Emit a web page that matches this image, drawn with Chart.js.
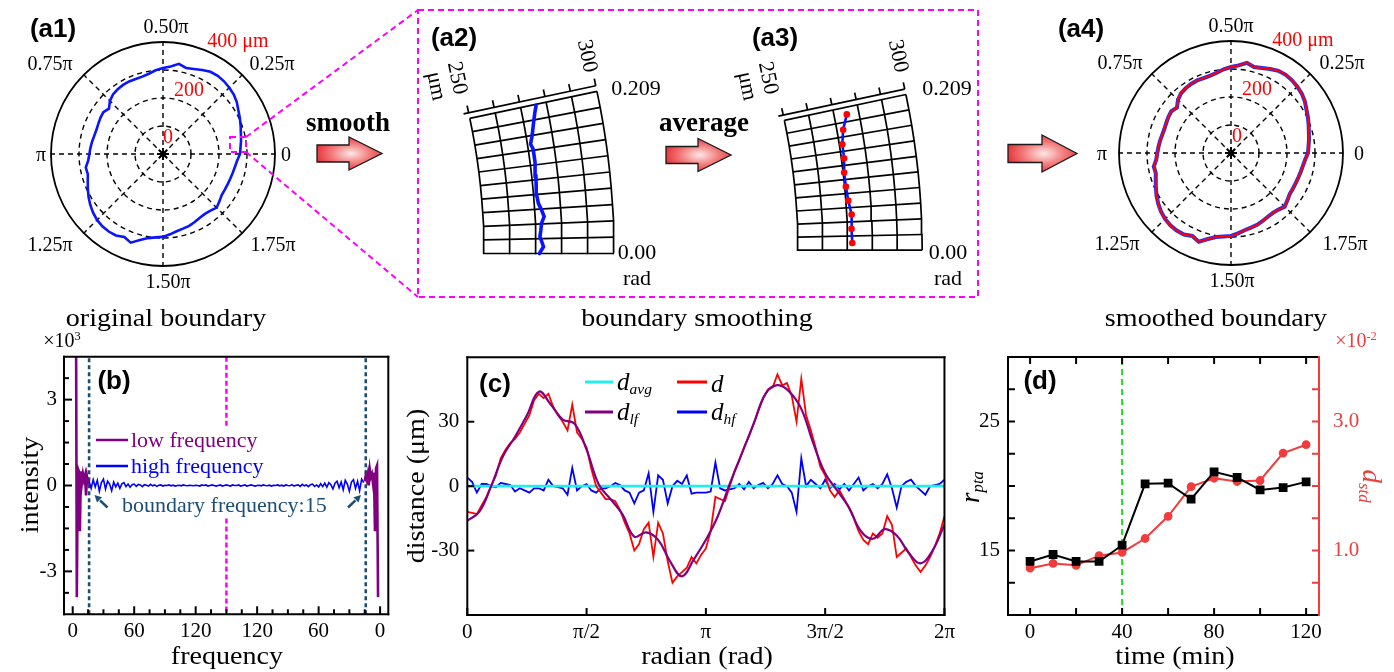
<!DOCTYPE html>
<html>
<head>
<meta charset="utf-8">
<title>Boundary smoothing</title>
<script src="https://cdn.jsdelivr.net/npm/chart.js@4.4.1/dist/chart.umd.min.js"></script>
<style>
  body { margin: 0; background: #fff; }
  #fig { position: relative; width: 1394px; height: 672px; overflow: hidden; background: #fff;
         font-family: "Liberation Serif", "Times New Roman", serif; color: #000; }
  #fig canvas { position: absolute; }
  #fig svg { position: absolute; left: 0; top: 0; pointer-events: none; }
  .txt { position: absolute; white-space: nowrap; line-height: 1; transform: translate(-50%, -50%); }
  .txt sub { font-size: 0.62em; vertical-align: -0.28em; }
  .txt sup { font-size: 0.62em; vertical-align: 0.55em; }
</style>
</head>
<body>
<div id="fig">
  <canvas id="a1" width="240" height="240" style="left:43px; top:34px"></canvas>
  <canvas id="a2" width="180" height="200" style="left:460px; top:70px"></canvas>
  <canvas id="a3" width="180" height="200" style="left:771px; top:70px"></canvas>
  <canvas id="a4" width="240" height="240" style="left:1111px; top:33px"></canvas>
  <canvas id="b" width="400" height="342" style="left:0; top:330px"></canvas>
  <canvas id="c" width="560" height="342" style="left:400px; top:330px"></canvas>
  <canvas id="d" width="454" height="342" style="left:940px; top:330px"></canvas>
  <svg width="1394" height="672">
    <defs>
      <radialGradient id="glow" cx="0.52" cy="0.5" r="0.6">
        <stop offset="0" stop-color="#fde8e8"/>
        <stop offset="0.5" stop-color="#f37a7a"/>
        <stop offset="1" stop-color="#e3232c"/>
      </radialGradient>
    </defs>
    <g fill="url(#glow)" stroke="#1a1a1a" stroke-width="1.3">
      <polygon points="317,145 349,145 349,137 382,153.5 349,170 349,162 317,162"/>
      <polygon points="666,146.5 698,146.5 698,138.5 731,155 698,171.5 698,163.5 666,163.5"/>
      <polygon points="1008,144.5 1042,144.5 1042,135 1077,153.5 1042,172 1042,162.5 1008,162.5"/>
    </g>
    <g fill="none" stroke="#ff00ff" stroke-width="2" stroke-dasharray="6 4">
      <rect x="418" y="10" width="560" height="287"/>
      <path d="M246 137 L418 10 M246 152 L418 297"/>
      <rect x="230" y="137" width="16" height="15"/>
    </g>
    <g stroke-width="2.5">
      <line x1="96" y1="440" x2="128" y2="440" stroke="#800080"/>
      <line x1="96" y1="466" x2="128" y2="466" stroke="#0000ff"/>
    </g>
    <g fill="#1c4e74" stroke="#1c4e74" stroke-width="2.5">
      <line x1="107.5" y1="507.5" x2="100" y2="500.3"/>
      <polygon points="94.5,495 102,497.2 97,502.4" stroke-width="0"/>
      <line x1="348" y1="507.5" x2="355.5" y2="500.3"/>
      <polygon points="361,495 353.5,497.2 358.5,502.4" stroke-width="0"/>
    </g>
    <g stroke-width="3">
      <line x1="585" y1="382" x2="613" y2="382" stroke="#22eeee"/>
      <line x1="677" y1="382" x2="707" y2="382" stroke="#ff0000"/>
      <line x1="585" y1="412" x2="613" y2="412" stroke="#800080"/>
      <line x1="677" y1="412" x2="707" y2="412" stroke="#0000ff"/>
    </g>
  </svg>
</div>
<script>
// ---------- data ----------
// (a1)/(a4) cell boundary: radius (um) at polar angle (deg, counter-clockwise from 0)
const polarAngleDeg = [0,5,10,15,20,25,30,35,40,45,50,55,60,65,70,75,80,85,90,95,100,105,110,115,120,125,130,135,140,145,150,155,160,165,170,175,180,185,190,195,200,205,210,215,220,225,230,235,240,245,250,255,260,265,270,275,280,285,290,295,300,305,310,315,320,325,330,335,340,345,350,355];
const boundaryRadiusUm = [275,278,283,288,295,303,311,322,330,335,339,341,339,331,323,318,327,314,307,300,291,286,285,286,285,282,278,268,252,260,258,255,253,254,257,260,263,268,280,278,286,296,307,317,326,333,337,338,336,327,337,318,305,299,296,288,280,276,273,268,263,261,264,271,263,256,255,255,256,258,261,266];

// (a2)/(a3) zoomed sector 0..0.209 rad, 250..300 um
const sectorRingsUm = [250, 260, 270, 280, 290, 300];
const sectorRaysRad = [0, 0.0209, 0.0419, 0.0628, 0.0838, 0.1047, 0.1257, 0.1466, 0.1676, 0.1885, 0.2094];
const origThetaRad = [0, 0.0095, 0.024, 0.033, 0.043, 0.052, 0.062, 0.071, 0.083, 0.095, 0.11, 0.129, 0.148, 0.156, 0.166, 0.176, 0.188, 0.199, 0.208];
const origRadiusUm = [271.3, 272.9, 271.6, 272.0, 272.4, 273.5, 272.6, 271.6, 271.2, 271.3, 271.6, 271.9, 271.9, 271.2, 272.2, 273.0, 274.0, 275.0, 276.0];
const avgThetaRad = [0.0105, 0.0314, 0.0524, 0.0733, 0.0942, 0.1152, 0.1361, 0.1571, 0.178, 0.199];
const avgRadiusUm = [271.9, 271.7, 272.0, 271.0, 270.5, 270.4, 271.1, 271.2, 272.5, 275.1];

// (b) spectrum
const freqTicks = [0, 60, 120, 180, 240, 300];
const freqTickLabels = ['0', '60', '120', '120', '60', '0'];
const freqMinorTicks = [15, 30, 45, 75, 90, 105, 135, 150, 165, 195, 210, 225, 255, 270, 285];
const intensityTicks = [-3, 0, 3];
const intensityTickLabels = ['-3', '0', '3'];
const intensityMinorTicks = [-3.75, -2.25, -1.5, -0.75, 0.75, 1.5, 2.25, 3.75];
const lowLeftFreq = [3, 4, 5, 6, 7, 8, 9, 10, 11, 12, 13, 14, 15, 16];
const lowLeftIntensity = [9, -3.9, 0.6, 0.5, -1.6, 0.5, 0.1, 0.4, 0.2, 0.35, -0.35, 0.3, 0.1, 0.15];
const lowRightFreq = [285, 286, 287, 288, 289, 290, 291, 292, 293, 294, 295, 296, 297, 298];
const lowRightIntensity = [0.15, 0.35, 0.2, 0.4, 0.0, 0.55, 0.3, 0.4, 0.1, 0.45, -1.6, 0.6, 0.7, -3.9];
const highFreqStart = 16, highFreqStep = 2;
const highIntensity = [
  0.15, -0.1, 0.2, -0.05, 0.18, -0.2, 0.1, 0.22, -0.12, 0.15, 0.05, -0.18, 0.12, -0.05, 0.08, -0.1, 0.06, 0.1, -0.04, 0.05, -0.06, 0.03, 0.05,
  -0.03, 0.04, 0.02, -0.04, 0.03, 0.01, -0.02, 0.04, -0.01, 0.02, -0.03, 0.01, 0.02, -0.02, 0.01, 0, 0.02, -0.01, 0.01, -0.02, 0, 0.01, -0.01, 0.02, 0, -0.01, 0.01, 0, -0.01, 0.01,
  0, -0.02, 0.02, 0, 0.02, -0.02, 0, 0.02, 0, -0.02, 0, 0.02, -0.02, 0, 0.02, 0, -0.02, 0.02, 0, 0, 0.02, -0.02, 0, 0.02, -0.02, 0, 0.02, 0, -0.02, 0,
  0.01, -0.01, 0.02, 0, -0.01, 0.01, -0.02, 0.01, 0, 0.02, -0.01, 0.01, -0.02, 0.02, 0, -0.01, 0.03, -0.02, 0.01, 0.02, -0.03, 0.04, -0.01, 0.02, -0.04, 0.03, 0.05, -0.03, 0.02, -0.05,
  0.06, -0.04, 0.08, -0.06, 0.1, 0.03, -0.12, 0.08, 0.15, -0.08, 0.12, -0.15, 0.18, 0.05, -0.2, 0.12, 0.2, -0.1, 0.15, -0.18, 0.22, 0.1];
const boundaryFreq = [16, 286];
const mirrorFreq = 150;

// (c) distance vs radian (x in units of pi)
const radianTicks = [0, 0.5, 1, 1.5, 2];
const radianTickLabels = ['0', 'π/2', 'π', '3π/2', '2π'];
const distanceTicks = [-30, 0, 30];
const distanceTickLabels = ['-30', '0', '30'];
const dStep = 0.02;
const dRaw = [
  -12, -12.5, -13, -9, -5, 0, 5, 13, 17, 20,
  22, 25, 29, 33, 40, 43, 41, 43, 37, 33,
  30, 26, 38, 25, 22, 18, 8, 0, -3, -6,
  -6, -7, -11, -17, -22, -30, -27, -20, -17, -33,
  -17, -22, -35, -45, -42, -40, -38, -33, -36, -32,
  -29, -21, -5, -6, -7, 0, 7, 12, 18, 23,
  29, 35, 41, 45, 46, 52, 47, 48, 42, 30,
  50, 33, 26, 18, 9, 5, -2, -5, -2, -6,
  -10, -15, -21, -25, -27, -22, -24, -22, -14, -18,
  -33, -31, -29, -33, -37, -40, -37, -33, -28, -22,
  -14];
const dHigh = [
  4, 2, -3, 1, 1, 0, -0.5, 1.5, 1, 0.5,
  -2.5, -1, -2, -3, -1, -1, -2, 3, 0, -0.5,
  -1, -4, 8.5, -2, 0, 1, -2, -3, -1, -1,
  0, 1.5, 0.5, -2, -3, -8, -3, -2, 6, -12,
  5, 3, -8, 0, 2.5, 1, 5, -3.5, -3, -3,
  -3, -2.5, 11, -1, -2, -1.5, -1, 1, -1.5, 2,
  -1, 0.5, 1.5, -1, 1, 5, 1, 0, -3, -12,
  13, 0, 3, 1, -1, 3, -1, 1, -1.5, 1,
  -2, 1, 4, -2, 0, 1, -1, 1, 5.5, -1,
  -10, 0, 2, 3, 0, -2, -4, 0, 0.5, 1,
  3];
const lfStep = 0.05;
const dLow = [
  -16, -12, 0, 14, 23, 33, 44, 38, 31, 29,
  17, 1, -6, -13, -23.5, -21.5, -25, -35, -42, -34,
  -25, -14, 1, 15, 29, 43, 47, 44, 36, 20,
  6, -2, -10, -21, -24.5, -20, -23, -31, -36, -30,
  -18];
const avgRadian = [0, 2];
const dAvg = [0, 0];

// (d) time series
const timeMin = [0, 10, 20, 30, 40, 50, 60, 70, 80, 90, 100, 110, 120];
const rPta = [14.15, 14.69, 14.15, 14.15, 15.41, 20.17, 20.22, 18.98, 21.1, 20.66, 19.7, 19.88, 20.32];
const dStd = [0.726, 0.80, 0.77, 0.92, 0.97, 1.186, 1.53, 1.99, 2.12, 2.07, 2.085, 2.51, 2.64];
const timeTicks = [0, 40, 80, 120];
const timeTickMarks = [0, 20, 40, 60, 80, 100, 120];
const rPtaTicks = [15, 25];
const rPtaTickMarks = [12.5, 15, 17.5, 20, 22.5, 25, 27.5];
const dStdTicks = [1, 3];
const dStdTickLabels = ['1.0', '3.0'];
const dStdTickMarks = [0.5, 1, 1.5, 2, 2.5, 3, 3.5];
const startMarker = 40;

// ---------- helpers ----------
const SERIF = '"Liberation Serif", "Times New Roman", serif';
const RED = '#f03c3c';
const pts = (xs, ys) => xs.map((x, i) => ({ x, y: ys[i] }));
const stepPts = (start, step, ys) => ys.map((y, i) => ({ x: start + i * step, y }));
const base = { responsive: false, animation: false, events: [] };
const quiet = { legend: { display: false }, tooltip: { enabled: false } };

function frame(opts) {
  return {
    id: 'frame',
    afterDatasetsDraw(chart) {
      const { ctx, chartArea: a } = chart;
      ctx.save();
      ctx.lineWidth = 2;
      (opts.ticks || []).forEach(t => {
        const s = chart.scales[t.scale];
        ctx.strokeStyle = t.color || '#000';
        t.values.forEach(v => {
          const p = s.getPixelForValue(v);
          ctx.beginPath();
          if (t.side === 'bottom') { ctx.moveTo(p, a.bottom); ctx.lineTo(p, a.bottom - t.len); }
          if (t.side === 'top') { ctx.moveTo(p, a.top); ctx.lineTo(p, a.top + t.len); }
          if (t.side === 'left') { ctx.moveTo(a.left, p); ctx.lineTo(a.left + t.len, p); }
          if (t.side === 'right') { ctx.moveTo(a.right, p); ctx.lineTo(a.right - t.len, p); }
          ctx.stroke();
        });
      });
      ctx.lineCap = 'square';
      const side = (c, x1, y1, x2, y2) => { ctx.strokeStyle = c; ctx.beginPath(); ctx.moveTo(x1, y1); ctx.lineTo(x2, y2); ctx.stroke(); };
      side('#000', a.left, a.top, a.right, a.top);
      side('#000', a.left, a.bottom, a.right, a.bottom);
      side('#000', a.left, a.top, a.left, a.bottom);
      side(opts.right || '#000', a.right, a.top, a.right, a.bottom);
      ctx.restore();
    }
  };
}

function axis(min, max, ticks, labels, size, pad, color) {
  return {
    type: 'linear', min, max,
    afterBuildTicks: s => { s.ticks = ticks.map(v => ({ value: v })); },
    afterFit: s => { if (s.isHorizontal()) s.height = size; else s.width = size; },
    grid: { display: false, drawTicks: false },
    border: { display: false },
    ticks: { autoSkip: false, maxRotation: 0, padding: pad, color: color || '#000',
             font: { family: SERIF, size: 21 }, callback: (v, i) => labels[i] }
  };
}

const line = (data, color, width, extra) => Object.assign({ data, borderColor: color, backgroundColor: color, borderWidth: width, pointRadius: 0, fill: false, tension: 0 }, extra || {});

// ---------- (a1) / (a4) polar boundary ----------
const ccw = arr => polarAngleDeg.map((_, i) => arr[(arr.length - i) % arr.length]);
const centreMark = polarAngleDeg.map((_, i) => (i === 0 ? 0 : null));

function polarChart(id, datasets) {
  return new Chart(document.getElementById(id), {
    type: 'radar',
    data: { labels: polarAngleDeg.map(String), datasets },
    options: Object.assign({}, base, {
      layout: { padding: 8 },
      plugins: quiet,
      scales: { r: {
        min: 0, max: 400, startAngle: 90,
        ticks: { display: false, stepSize: 100 },
        pointLabels: { display: false },
        grid: { circular: true, color: '#000', lineWidth: c => (c.tick && c.tick.value === 400 ? 1.8 : 1.4) },
        border: { dash: c => (c.tick && c.tick.value === 400 ? [] : [5, 4]) },
        angleLines: { color: '#000', lineWidth: c => (c.index % 9 === 0 ? 1.4 : 0), borderDash: [5, 4] }
      } }
    })
  });
}
const star = { data: centreMark, pointStyle: 'star', pointRadius: 6, borderColor: '#000', borderWidth: 2, showLine: false, order: 0 };
polarChart('a1', [
  { data: ccw(boundaryRadiusUm), borderColor: '#0a14ff', borderWidth: 2.6, fill: false, pointRadius: 0, order: 1 },
  star
]);
polarChart('a4', [
  { data: ccw(boundaryRadiusUm), borderColor: '#ff0000', borderWidth: 2, fill: false, pointRadius: 0, tension: 0.15, order: 1 },
  { data: ccw(boundaryRadiusUm), borderColor: '#2030ff', borderWidth: 4, fill: false, pointRadius: 0, order: 2 },
  star
]);

// ---------- (a2) / (a3) zoomed sector ----------
const PX_PER_UM = 2.6;
const SECTOR_X0 = 240.77, SECTOR_Y1 = 70.58;
const pol = (r, t) => ({ x: r * Math.cos(t), y: r * Math.sin(t) });
function sectorGrid() {
  const ds = [];
  sectorRingsUm.forEach(r => ds.push(line(sectorRaysRad.map(t => pol(r, t)), '#000', 1.7, { showLine: true })));
  sectorRaysRad.forEach(t => ds.push(line([pol(250, t), pol(300, t)], '#000', 1.7, { showLine: true })));
  const top = sectorRaysRad[sectorRaysRad.length - 1];
  const off = (r, d) => ({ x: r * Math.cos(top) - d * Math.sin(top), y: r * Math.sin(top) + d * Math.cos(top) });
  ds.push(line([off(248, 2.2), off(300, 2.2)], '#000', 1.7, { showLine: true }));
  sectorRingsUm.forEach(r => ds.push(line([off(r, 2.2), off(r, 5)], '#000', 1.7, { showLine: true })));
  return ds;
}
function sectorChart(id, extra) {
  return new Chart(document.getElementById(id), {
    type: 'scatter',
    data: { datasets: extra.concat(sectorGrid()) },
    options: Object.assign({}, base, {
      layout: { padding: 0 },
      plugins: quiet,
      scales: {
        x: { type: 'linear', display: false, min: SECTOR_X0, max: SECTOR_X0 + 180 / PX_PER_UM },
        y: { type: 'linear', display: false, min: SECTOR_Y1 - 200 / PX_PER_UM, max: SECTOR_Y1 }
      }
    })
  });
}
sectorChart('a2', [line(origThetaRad.map((t, i) => pol(origRadiusUm[i], t)), '#0a14ff', 3.6, { showLine: true, borderCapStyle: 'round' })]);
sectorChart('a3', [line(avgThetaRad.map((t, i) => pol(avgRadiusUm[i], t)), '#0a14ff', 2.6,
  { showLine: true, pointRadius: 3.3, pointBackgroundColor: '#ff0000', pointBorderWidth: 0 })]);

// ---------- (b) ----------
new Chart(document.getElementById('b'), {
  type: 'line',
  data: { datasets: [
    line(stepPts(highFreqStart, highFreqStep, highIntensity), '#0000ff', 1.6, { order: 0 }),
    line(pts(lowLeftFreq, lowLeftIntensity), '#800080', 2.6, { order: 0 }),
    line(pts(lowRightFreq, lowRightIntensity), '#800080', 2.6, { order: 0 }),
    line([{ x: boundaryFreq[0], y: -4.5 }, { x: boundaryFreq[0], y: 4.5 }], '#1c4e74', 2.6, { borderDash: [4, 3], order: 1 }),
    line([{ x: boundaryFreq[1], y: -4.5 }, { x: boundaryFreq[1], y: 4.5 }], '#1c4e74', 2.6, { borderDash: [4, 3], order: 1 }),
    line([{ x: mirrorFreq, y: 4.5 }, { x: mirrorFreq, y: 2.0 }], '#ff00ff', 2.5, { borderDash: [5, 3], order: 1 }),
    line([{ x: mirrorFreq, y: -1.15 }, { x: mirrorFreq, y: -4.5 }], '#ff00ff', 2.5, { borderDash: [5, 3], order: 1 })
  ] },
  options: Object.assign({}, base, {
    layout: { padding: { left: 0, top: 26.7, right: 11.7, bottom: 0 } },
    plugins: quiet,
    scales: {
      x: axis(-8.5, 308, freqTicks, freqTickLabels, 57.7, 5),
      y: axis(-4.5, 4.5, intensityTicks, intensityTickLabels, 64, 7)
    }
  }),
  plugins: [frame({ ticks: [
    { scale: 'x', side: 'bottom', values: freqTicks, len: 8 },
    { scale: 'x', side: 'bottom', values: freqMinorTicks, len: 5 },
    { scale: 'y', side: 'left', values: intensityTicks, len: 8 },
    { scale: 'y', side: 'left', values: intensityMinorTicks, len: 5 }
  ] })]
});

// ---------- (c) ----------
new Chart(document.getElementById('c'), {
  type: 'line',
  data: { datasets: [
    line(stepPts(0, dStep, dHigh), '#0000ff', 1.8, { order: 3 }),
    line(pts(avgRadian, dAvg), '#22eeee', 2.6, { order: 2 }),
    line(stepPts(0, dStep, dRaw), '#ff0000', 1.8, { order: 1 }),
    line(stepPts(0, lfStep, dLow), '#800080', 2.2, { order: 0, tension: 0.4 })
  ] },
  options: Object.assign({}, base, {
    layout: { padding: { left: 0, top: 27.3, right: 12.5, bottom: 0 } },
    plugins: quiet,
    scales: {
      x: axis(0, 2, radianTicks, radianTickLabels, 57, 5),
      y: axis(-60, 60, distanceTicks, distanceTickLabels, 67.3, 8)
    }
  }),
  plugins: [frame({ ticks: [
    { scale: 'x', side: 'bottom', values: radianTicks, len: 7 },
    { scale: 'y', side: 'left', values: distanceTicks, len: 7 }
  ] })]
});

// ---------- (d) ----------
new Chart(document.getElementById('d'), {
  type: 'line',
  data: { datasets: [
    line(pts(timeMin, rPta), '#000', 2, { pointStyle: 'rect', pointRadius: 4.8, yAxisID: 'y', order: 0 }),
    line(pts(timeMin, dStd), RED, 2, { pointStyle: 'circle', pointRadius: 3.4, yAxisID: 'y2', order: 1 }),
    line([{ x: startMarker, y: 10 }, { x: startMarker, y: 30 }], '#22dd22', 2, { borderDash: [6, 4], yAxisID: 'y', order: 2 })
  ] },
  options: Object.assign({}, base, {
    layout: { padding: { left: 0, top: 27, right: 0, bottom: 0 } },
    plugins: quiet,
    scales: {
      x: axis(-9.6, 125.6, timeTicks, timeTicks.map(String), 57, 5),
      y: axis(10, 30, rPtaTicks, rPtaTicks.map(String), 68, 8),
      y2: Object.assign(axis(0, 4, dStdTicks, dStdTickLabels, 75, 14, RED), { position: 'right' })
    }
  }),
  plugins: [frame({ right: RED, ticks: [
    { scale: 'x', side: 'bottom', values: timeTickMarks, len: 7 },
    { scale: 'x', side: 'top', values: timeTickMarks, len: 7 },
    { scale: 'y', side: 'left', values: rPtaTickMarks, len: 7 },
    { scale: 'y2', side: 'right', values: dStdTickMarks, len: 7, color: RED }
  ] })]
});

// ---------- text ----------
const fig = document.getElementById('fig');
function txt(html, x, y, css) {
  const el = document.createElement('div');
  el.className = 'txt';
  el.innerHTML = html;
  el.style.cssText = 'left:' + x + 'px;top:' + y + 'px;' + (css || '');
  fig.appendChild(el);
}
const BOLD = 'font-family:"Liberation Sans",Arial,sans-serif;font-weight:bold;font-size:26px;';
const TITLE = 'font-size:26px;transform:translate(-50%,-50%) scaleX(1.08);';
const LEFT = 'transform:translate(0,-50%);';
const ANG = 'font-size:20px;';
const REDTXT = 'font-size:20px;color:#ff0000;';

// top row
txt('(a1)', 53, 28, BOLD);
txt('(a2)', 454, 37, BOLD);
txt('(a3)', 775, 37, BOLD);
txt('(a4)', 1081, 28, BOLD);
[[0, 0], [1068, -1]].forEach(([dx, dy], k) => {
  const angle = k === 0
    ? [['0.50π', 166, 26], ['0.25π', 272, 63], ['0.75π', 50, 63], ['π', 41, 154], ['0', 286, 154], ['1.25π', 50, 244], ['1.75π', 273, 244], ['1.50π', 168, 281]]
    : [['0.50π', 163, 26], ['0.25π', 274, 63], ['0.75π', 52, 63], ['π', 34, 154], ['0', 291, 154], ['1.25π', 49, 244], ['1.75π', 277, 244], ['1.50π', 164, 281]];
  angle.forEach(([s, x, y]) => txt(s, x + dx, y + dy, ANG));
  const radial = k === 0
    ? [['400 μm', 238, 40], ['200', 189, 89], ['0', 168, 136]]
    : [['400 μm', 235, 40], ['200', 189, 89], ['0', 169, 136]];
  radial.forEach(([s, x, y]) => txt(s, x + dx, y + dy, REDTXT));
});
txt('original boundary', 166, 318, TITLE);
txt('boundary smoothing', 697, 318, TITLE);
txt('smoothed boundary', 1216, 318, TITLE);
txt('smooth', 348, 122, 'font-weight:bold;font-size:27px;');
txt('average', 704, 122, 'font-weight:bold;font-size:27px;');
[0, 311].forEach(dx => {
  const ROT = 'font-size:22px;transform:translate(-50%,-50%) rotate(78deg);';
  txt('250', 458 + dx, 78, ROT);
  txt('μm', 437 + dx, 86, ROT);
  txt('300', 588 + dx, 56, ROT);
  txt('0.209', 636 + dx, 88, 'font-size:22px;');
  txt('0.00', 637 + dx, 252, 'font-size:22px;');
  txt('rad', 637 + dx, 278, 'font-size:22px;');
});

// (b)
txt('(b)', 114, 380, BOLD);
txt('×10<sup>3</sup>', 62, 340, 'font-size:20px;');
txt('intensity', 30, 485, 'font-size:26px;transform:translate(-50%,-50%) rotate(-90deg) scaleX(1.08);');
txt('frequency', 227, 656, TITLE);
txt('low frequency', 131, 440, LEFT + 'font-size:22px;color:#800080;');
txt('high frequency', 131, 466, LEFT + 'font-size:22px;color:#0000ff;');
txt('boundary frequency:15', 122, 505, LEFT + 'font-size:22px;color:#1c4e74;');

// (c)
txt('(c)', 495, 383, BOLD);
txt('distance (μm)', 416, 486, 'font-size:26px;transform:translate(-50%,-50%) rotate(-90deg) scaleX(1.08);');
txt('radian (rad)', 707, 656, TITLE);
const LEG = LEFT + 'font-size:25px;font-style:italic;';
txt('d<sub>avg</sub>', 617, 383, LEG);
txt('d', 711, 383, LEG);
txt('d<sub>lf</sub>', 617, 413, LEG);
txt('d<sub>hf</sub>', 711, 413, LEG);

// (d)
txt('(d)', 1040, 380, BOLD);
txt('<i>r</i><sub><i>pta</i></sub>', 972, 487, 'font-size:27px;transform:translate(-50%,-50%) rotate(-90deg);');
txt('<i>d</i><sub><i>std</i></sub>', 1370, 486, 'font-size:27px;color:' + RED + ';transform:translate(-50%,-50%) rotate(90deg);');
txt('×10<sup>-2</sup>', 1356, 340, 'font-size:20px;color:' + RED + ';');
txt('time (min)', 1175, 656, TITLE);
</script>
</body>
</html>
